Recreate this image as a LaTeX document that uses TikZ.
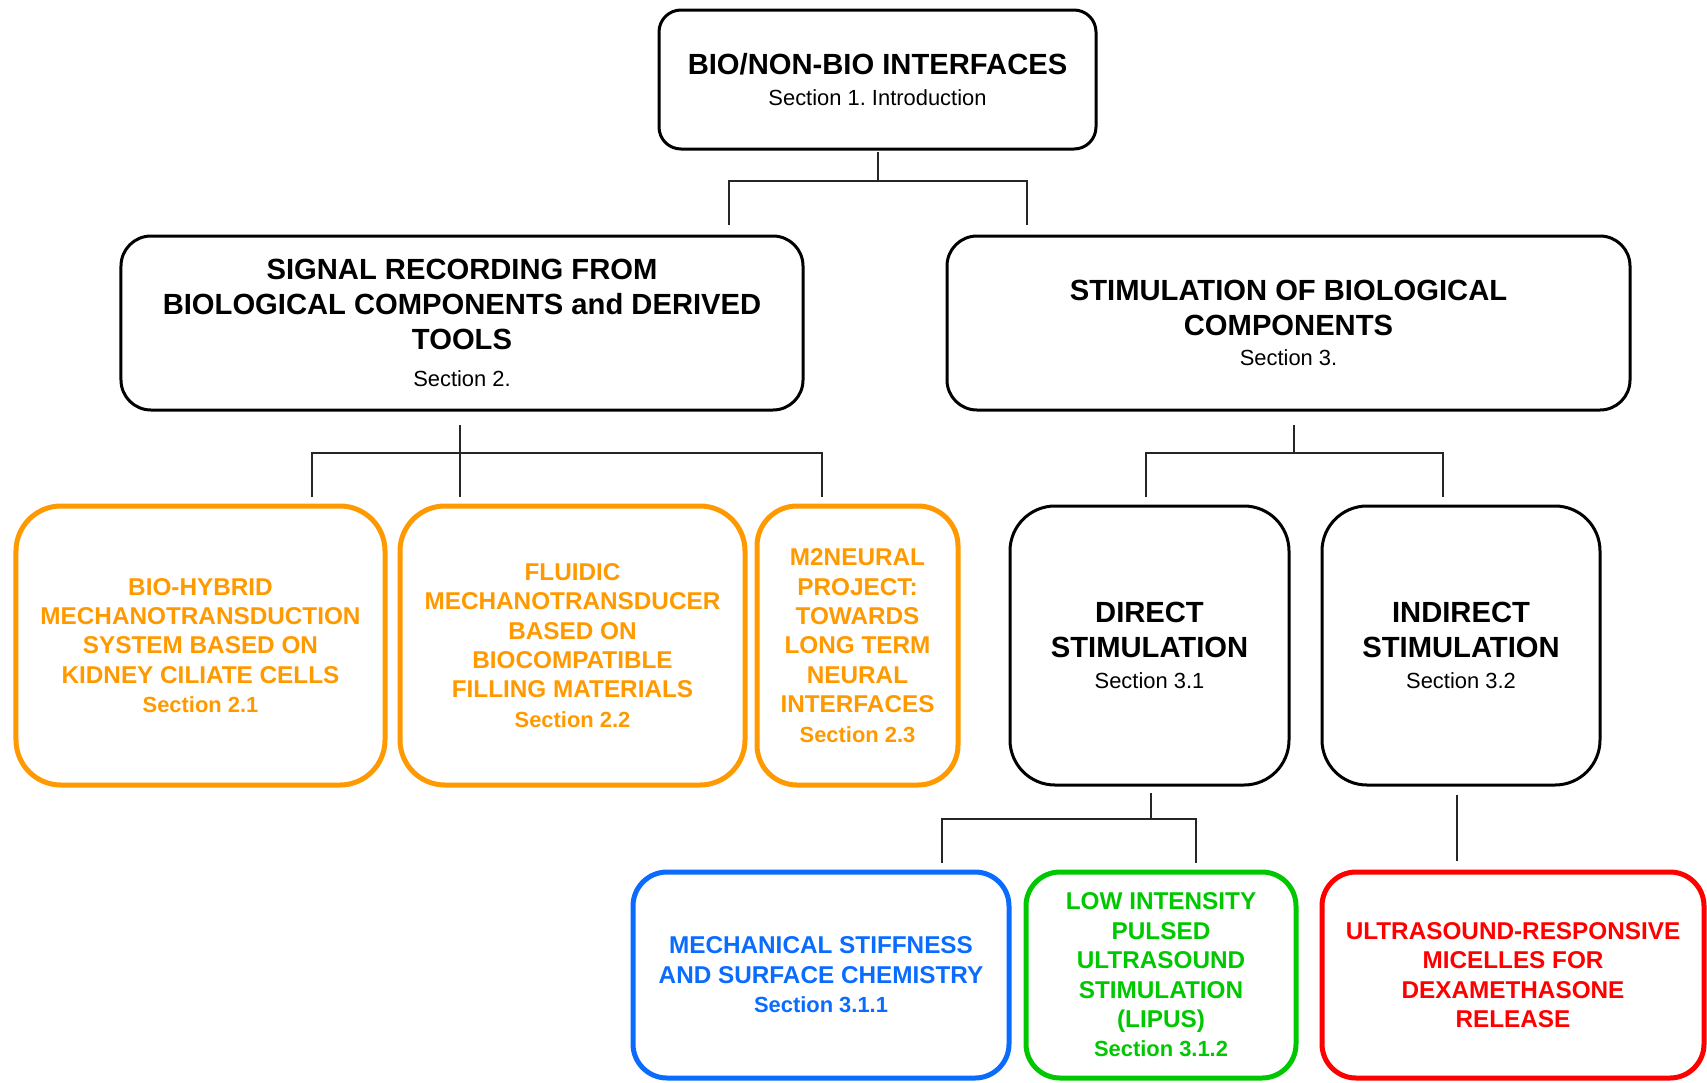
\documentclass[tikz,border=0pt]{standalone}
\usepackage{fontspec}
\setmainfont{Liberation Sans}
\frenchspacing
\definecolor{secorange}{HTML}{FF9900}
\definecolor{secblue}{HTML}{0A6CFF}
\definecolor{secgreen}{HTML}{00C800}
\definecolor{secred}{HTML}{FF0000}
\newcommand{\secname}[1]{{\fontsize{22}{35}\selectfont\mdseries #1}}
\newcommand{\subsecname}[1]{{\fontsize{22}{29.5}\selectfont #1}}

\begin{document}
\begin{tikzpicture}[x=1bp,y=-1bp,
    mainbox/.style={draw=black, line width=3bp, rounded corners=30bp, align=center, inner sep=0pt,
        font=\fontsize{29.3}{35}\selectfont\bfseries},
    subbox/.style={draw=#1, text=#1, line width=5bp, rounded corners=34bp, align=center, inner sep=0pt,
        font=\fontsize{24.4}{29.5}\selectfont\bfseries},
    link/.style={draw=black!85, line width=1.6bp}]
        \useasboundingbox (0,0) rectangle (1707,1082);
        % Top level
        \node[mainbox, rounded corners=22bp, minimum width=437bp, minimum height=139bp] (intro) at (877.5,79.5)
            {BIO/NON-BIO INTERFACES\\[-4bp]\secname{Section 1. Introduction}};
        % Sections 2 and 3
        \node[mainbox, minimum width=682bp, minimum height=174bp] (recording) at (462,323)
            {SIGNAL RECORDING FROM\\BIOLOGICAL COMPONENTS and DERIVED\\TOOLS\\[3bp]\secname{Section 2.}};
        \node[mainbox, minimum width=683bp, minimum height=174bp] (stimulation) at (1288.5,323)
            {STIMULATION OF BIOLOGICAL\\COMPONENTS\\[-5bp]\secname{Section 3.}};
        % Subsections of section 2
        \node[subbox=secorange, rounded corners=45bp, minimum width=369bp, minimum height=279bp] (hybrid) at (200.5,645.5)
            {BIO-HYBRID\\MECHANOTRANSDUCTION\\SYSTEM BASED ON\\KIDNEY CILIATE CELLS\\\subsecname{Section 2.1}};
        \node[subbox=secorange, rounded corners=45bp, minimum width=345bp, minimum height=279bp] (fluidic) at (572.5,645.5)
            {FLUIDIC\\MECHANOTRANSDUCER\\BASED ON\\BIOCOMPATIBLE\\FILLING MATERIALS\\\subsecname{Section 2.2}};
        \node[subbox=secorange, rounded corners=40bp, minimum width=201bp, minimum height=279bp] (neural) at (857.5,645.5)
            {M2NEURAL\\PROJECT:\\TOWARDS\\LONG TERM\\NEURAL\\INTERFACES\\\subsecname{Section 2.3}};
        % Subsections of section 3
        \node[mainbox, rounded corners=45bp, minimum width=279bp, minimum height=279bp] (direct) at (1149.5,645.5)
            {DIRECT\\STIMULATION\\[-3bp]\secname{Section 3.1}};
        \node[mainbox, rounded corners=45bp, minimum width=278bp, minimum height=279bp] (indirect) at (1461,645.5)
            {INDIRECT\\STIMULATION\\[-3bp]\secname{Section 3.2}};
        % Bottom row
        \node[subbox=secblue, minimum width=376bp, minimum height=206bp] (stiffness) at (821,975)
            {MECHANICAL STIFFNESS\\AND SURFACE CHEMISTRY\\\subsecname{Section 3.1.1}};
        \node[subbox=secgreen, minimum width=270bp, minimum height=206bp] (lipus) at (1161,975)
            {LOW INTENSITY\\PULSED\\ULTRASOUND\\STIMULATION\\(LIPUS)\\\subsecname{Section 3.1.2}};
        \node[subbox=secred, minimum width=382bp, minimum height=206bp] (micelles) at (1513,975)
            {ULTRASOUND-RESPONSIVE\\MICELLES FOR\\DEXAMETHASONE\\RELEASE};
        % Connector ends
        \coordinate (introfoot) at (878,152);
        \coordinate (introjoin) at (878,181);
        \coordinate (recordtop) at (729,225);
        \coordinate (stimtop) at (1027,225);
        \coordinate (recordfoot) at (460,425);
        \coordinate (recordjoin) at (460,453);
        \coordinate (hybridtop) at (312,497);
        \coordinate (fluidictop) at (460,497);
        \coordinate (neuraltop) at (822,497);
        \coordinate (stimfoot) at (1294,425);
        \coordinate (stimjoin) at (1294,453);
        \coordinate (directtop) at (1146,497);
        \coordinate (indirecttop) at (1443,497);
        \coordinate (directfoot) at (1151,793);
        \coordinate (directjoin) at (1151,819);
        \coordinate (stiffnesstop) at (942,863);
        \coordinate (lipustop) at (1196,863);
        \coordinate (indirectfoot) at (1457,795);
        \coordinate (micellestop) at (1457,861);
        % Connectors
        \draw[link] (introfoot) -- (introjoin);
        \draw[link] (recordtop) |- (introjoin) -| (stimtop);
        \draw[link] (recordfoot) -- (fluidictop);
        \draw[link] (hybridtop) |- (recordjoin) -| (neuraltop);
        \draw[link] (stimfoot) -- (stimjoin);
        \draw[link] (directtop) |- (stimjoin) -| (indirecttop);
        \draw[link] (directfoot) -- (directjoin);
        \draw[link] (stiffnesstop) |- (directjoin) -| (lipustop);
        \draw[link] (indirectfoot) -- (micellestop);
\end{tikzpicture}
\end{document}
